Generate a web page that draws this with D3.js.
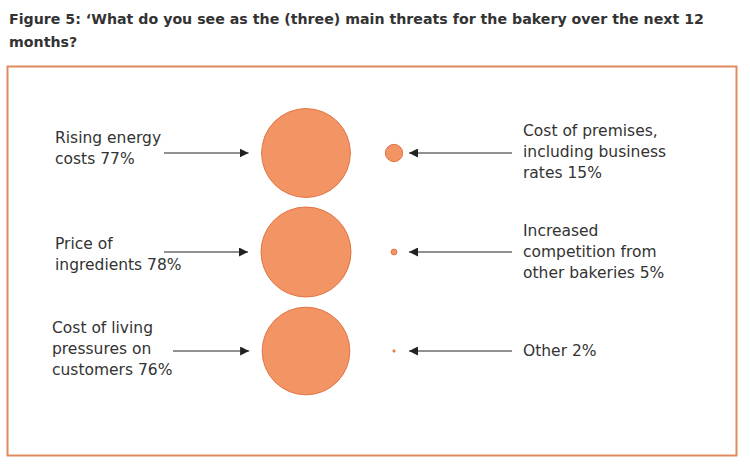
<!DOCTYPE html>
<html>
<head>
<meta charset="utf-8">
<script src="https://cdnjs.cloudflare.com/ajax/libs/d3/7.8.5/d3.min.js"></script>
<style>
  body { margin: 0; background: #fff; }
  text { font-family: "DejaVu Sans", sans-serif; fill: #333; }
</style>
</head>
<body>
<script>
// main threats (left column, big circles)
var leftLabels = [["Rising energy", "costs 77%"], ["Price of", "ingredients 78%"], ["Cost of living", "pressures on", "customers 76%"]];
var leftValues = [77, 78, 76];
// smaller threats (right column)
var rightLabels = [["Cost of premises,", "including business", "rates 15%"], ["Increased", "competition from", "other bakeries 5%"], ["Other 2%"]];
var rightValues = [15, 5, 2];

var w = 750, h = 470;
var svg = d3.select("body").append("svg").attr("width", w).attr("height", h);

svg.append("defs").append("marker")
    .attr("id", "arr")
    .attr("viewBox", "0 0 10 10")
    .attr("refX", 10).attr("refY", 5)
    .attr("markerWidth", 9).attr("markerHeight", 9)
    .attr("markerUnits", "userSpaceOnUse")
    .attr("orient", "auto")
  .append("path").attr("d", "M0,0L10,5L0,10z").attr("fill", "#222");

// title
svg.append("text").attr("x", 9).attr("y", 24)
    .style("font-size", "14.2px").style("font-weight", "bold")
    .text("Figure 5: \u2018What do you see as the (three) main threats for the bakery over the next 12");
svg.append("text").attr("x", 9).attr("y", 47)
    .style("font-size", "14.2px").style("font-weight", "bold")
    .text("months?");

// frame
svg.append("rect").attr("x", 7.5).attr("y", 66.5).attr("width", 729).attr("height", 389)
    .attr("fill", "none").attr("stroke", "#E08A5E").attr("stroke-width", 2);

var y = d3.scalePoint().domain([0, 1, 2]).range([153, 351]);
var r = d3.scaleLinear().domain([0, 78]).range([0, 45]);
var bigX = 306, smallX = 394;

// big circles
svg.selectAll("circle.big").data(leftValues).enter().append("circle")
    .attr("class", "big")
    .attr("cx", bigX).attr("cy", function(d, i) { return y(i); })
    .attr("r", function(d) { return r(d); })
    .attr("fill", "#F29464").attr("stroke", "#E27445").attr("stroke-width", 1);

// small circles
svg.selectAll("circle.small").data(rightValues).enter().append("circle")
    .attr("class", "small")
    .attr("cx", smallX).attr("cy", function(d, i) { return y(i); })
    .attr("r", function(d) { return r(d); })
    .attr("fill", "#F29464").attr("stroke", "#E27445").attr("stroke-width", 1);

// left arrows
svg.selectAll("line.la").data(leftValues).enter().append("line")
    .attr("class", "la")
    .attr("x1", function(d, i) { return i == 2 ? 173 : 164; })
    .attr("x2", function(d) { return bigX - r(d) - 13; })
    .attr("y1", function(d, i) { return y(i); })
    .attr("y2", function(d, i) { return y(i); })
    .attr("stroke", "#222").attr("stroke-width", 1)
    .attr("marker-end", "url(#arr)");

// right arrows
svg.selectAll("line.ra").data(rightValues).enter().append("line")
    .attr("class", "ra")
    .attr("x1", 512)
    .attr("x2", 409)
    .attr("y1", function(d, i) { return y(i); })
    .attr("y2", function(d, i) { return y(i); })
    .attr("stroke", "#222").attr("stroke-width", 1)
    .attr("marker-end", "url(#arr)");

var lh = 21;
function labels(data, x, cls, shift) {
  svg.selectAll("text." + cls).data(data).enter().append("text")
      .attr("class", cls)
      .style("font-size", "15.5px")
      .attr("x", function(d, i) { return x; })
      .each(function(d, i) {
        var t = d3.select(this);
        var top = y(i) + shift[i] - (d.length - 1) * lh / 2 + 5;
        d.forEach(function(s, k) {
          t.append("tspan").attr("x", function() { return i == 2 && cls == "lt" ? x - 3 : x; })
           .attr("y", top + k * lh).text(s);
        });
      });
}
labels(leftLabels, 55, "lt", [-5, 2, -2]);
labels(rightLabels, 523, "rt", [-1, 0, 0]);
</script>
</body>
</html>
